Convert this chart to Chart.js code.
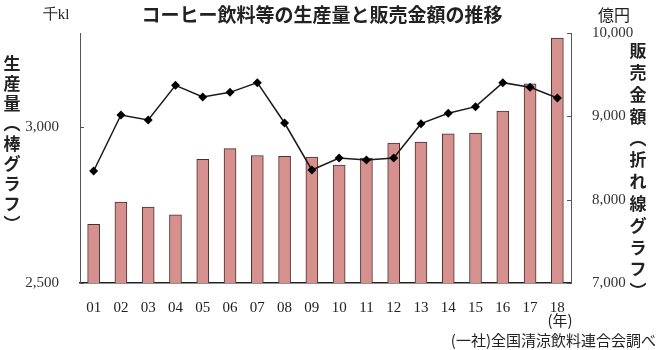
<!DOCTYPE html>
<html>
<head>
<meta charset="utf-8">
<script src="https://cdn.jsdelivr.net/npm/chart.js@4"></script>
<style>
  body { margin: 0; background: #fff; }
  #wrap { width: 658px; height: 350px; }
</style>
</head>
<body>
<div id="wrap"><canvas id="coffeeChart" width="658" height="350"></canvas></div>
<script>
const years = ['01','02','03','04','05','06','07','08','09','10','11','12','13','14','15','16','17','18'];
// 生産量 (千kl)
const production = [2688, 2759, 2743, 2718, 2896, 2930, 2908, 2905, 2903, 2877, 2900, 2948, 2951, 2977, 2980, 3050, 3137, 3284];
// 販売金額 (億円)
const sales = [8344, 9016, 8956, 9372, 9232, 9288, 9404, 8920, 8356, 8500, 8476, 8500, 8912, 9036, 9116, 9404, 9348, 9220];
const leftTicks = [2500, 3000];
const rightTicks = [7000, 8000, 9000, 10000];

const JP = '"Noto Sans CJK JP", sans-serif';
const NUM = '"Liberation Serif", serif';

// extra texts: title, units, vertical axis titles, source
const textPlugin = {
  id: 'texts',
  afterDraw(chart) {
    const ctx = chart.ctx;
    ctx.save();
    ctx.fillStyle = '#222';
    ctx.textBaseline = 'middle';

    ctx.font = 'bold 19px ' + JP;
    ctx.textAlign = 'center';
    ctx.fillText('コーヒー飲料等の生産量と販売金額の推移', 322, 15);

    ctx.font = '15px ' + NUM;
    ctx.fillText('千kl', 56, 15);
    ctx.font = '16px ' + JP;
    ctx.fillText('億円', 614, 15);

    // vertical titles
    ctx.font = 'bold 17px ' + JP;
    const left = ['生','産','量','︵','棒','グ','ラ','フ','︶'];
    left.forEach((c, i) => ctx.fillText(c, 12, 64 + i * 20));
    const right = ['販','売','金','額','︵','折','れ','線','グ','ラ','フ','︶'];
    right.forEach((c, i) => ctx.fillText(c, 638, 51 + i * 21.8));

    ctx.font = '15px ' + JP;
    ctx.fillText('(年)', 560, 320);
    ctx.textAlign = 'right';
    ctx.fillText('(一社)全国清涼飲料連合会調べ', 656, 340);

    // inward tick marks on the y axes
    const ca = chart.chartArea;
    ctx.strokeStyle = '#555';
    ctx.lineWidth = 1;
    leftTicks.forEach(v => {
      const y = Math.round(chart.scales.y.getPixelForValue(v)) + 0.5;
      ctx.beginPath(); ctx.moveTo(ca.left, y); ctx.lineTo(ca.left + 4, y); ctx.stroke();
    });
    rightTicks.forEach(v => {
      const y = Math.round(chart.scales.y1.getPixelForValue(v)) + 0.5;
      ctx.beginPath(); ctx.moveTo(ca.right, y); ctx.lineTo(ca.right - 4, y); ctx.stroke();
    });
    ctx.restore();
  }
};

new Chart(document.getElementById('coffeeChart'), {
  data: {
    labels: years,
    datasets: [
      {
        type: 'line',
        label: '販売金額',
        data: sales,
        yAxisID: 'y1',
        borderColor: '#1a1a1a',
        backgroundColor: '#000',
        borderWidth: 1.5,
        pointStyle: 'rectRot',
        pointRadius: 4.5,
        pointBorderWidth: 0,
        tension: 0,
        order: 0
      },
      {
        type: 'bar',
        label: '生産量',
        data: production,
        yAxisID: 'y',
        backgroundColor: '#d6918f',
        borderColor: '#4a2f2f',
        borderWidth: 1,
        barThickness: 12,
        order: 1
      }
    ]
  },
  options: {
    responsive: false,
    animation: false,
    layout: { padding: { top: 33, left: 0, right: 0, bottom: 0 } },
    plugins: { legend: { display: false }, tooltip: { enabled: false } },
    scales: {
      x: {
        offset: true,
        grid: { display: false },
        border: { display: true, color: '#222', width: 1.5 },
        ticks: { color: '#222', font: { family: NUM, size: 15 }, padding: 8, maxRotation: 0 },
        afterFit(scale) { scale.height = 67; }
      },
      y: {
        position: 'left',
        min: 2500,
        max: 3300,
        grid: { display: false },
        border: { display: true, color: '#555', width: 1 },
        ticks: {
          color: '#333', font: { family: NUM, size: 15 }, padding: 13,
          callback: v => v.toLocaleString('en-US')
        },
        afterBuildTicks(scale) { scale.ticks = leftTicks.map(v => ({ value: v })); },
        afterFit(scale) { scale.width = 80; }
      },
      y1: {
        position: 'right',
        min: 7000,
        max: 10000,
        grid: { display: false },
        border: { display: true, color: '#555', width: 1 },
        ticks: {
          color: '#333', font: { family: NUM, size: 15 }, padding: 13,
          callback: v => v.toLocaleString('en-US')
        },
        afterBuildTicks(scale) { scale.ticks = rightTicks.map(v => ({ value: v })); },
        afterFit(scale) { scale.width = 87; }
      }
    }
  },
  plugins: [textPlugin]
});
</script>
</body>
</html>
